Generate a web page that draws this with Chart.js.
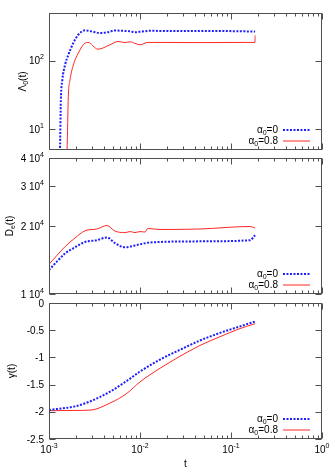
<!DOCTYPE html>
<html lang="en">
<head>
<meta charset="UTF-8">
<title>Lambda0, De, gamma vs t</title>
<script src="https://cdn.jsdelivr.net/npm/chart.js"></script>
<style>
  body { margin: 0; background: #fff; }
  #wrap { position: relative; width: 332px; height: 474px; overflow: hidden; }
  canvas { position: absolute; left: 0; }
</style>
</head>
<body>
<div id="wrap">
  <canvas id="c1" width="332" height="155" style="top:0px"></canvas>
  <canvas id="c2" width="332" height="150" style="top:150px"></canvas>
  <canvas id="c3" width="332" height="180" style="top:294px"></canvas>
</div>
<script>
// ---- data ----
const legendVals = ['0', '0.8'];            // alpha_0 of each series

// panel 1: Lambda_0(t)
const tL0a = [0.00128, 0.00132, 0.00135, 0.0014, 0.0015, 0.00163, 0.00185, 0.0021, 0.00249, 0.003, 0.00363, 0.00445, 0.0053, 0.00634, 0.00777, 0.0088, 0.0105, 0.0129, 0.0214, 0.0456, 0.0975, 0.184];
const L0a  = [3, 5, 27, 52, 87, 122, 182, 241, 279, 268, 255, 262, 278, 275, 270, 262, 268, 275, 272, 273, 272, 268];
const tL0b = [0.00155, 0.00158, 0.00163, 0.0017, 0.00185, 0.0021, 0.00249, 0.00268, 0.00345, 0.00468, 0.00573, 0.00684, 0.00777, 0.0088, 0.01, 0.0122, 0.0456, 0.179, 0.1835, 0.184];
const L0b  = [3, 5, 30, 52, 87, 130, 182, 186, 148, 172, 192, 185, 190, 180, 172, 186, 185, 186, 186, 235];

// panel 2: De(t)
const tDa = [0.001, 0.0015, 0.00193, 0.00249, 0.00336, 0.00434, 0.0053, 0.00684, 0.0088, 0.01, 0.0129, 0.0456, 0.162, 0.184];
const Dea = [12770, 15100, 16100, 17000, 17300, 17800, 16800, 16100, 16400, 16600, 16900, 17100, 17300, 18200];
const tDb = [0.001, 0.0015, 0.00193, 0.00249, 0.00336, 0.00434, 0.0053, 0.00684, 0.0078, 0.0088, 0.01, 0.01135, 0.0122, 0.0166, 0.0456, 0.162, 0.184];
const Deb = [13530, 16200, 17700, 19050, 19400, 20100, 19000, 18700, 18900, 18700, 18900, 18800, 19500, 19300, 19400, 19900, 19600];

// panel 3: gamma(t)
const tG  = [0.001, 0.00193, 0.00282, 0.00468, 0.00719, 0.01, 0.0166, 0.0275, 0.0456, 0.0757, 0.1256, 0.184];
const Ga  = [-1.965, -1.90, -1.81, -1.63, -1.43, -1.26, -1.04, -0.86, -0.69, -0.55, -0.43, -0.34];
const Gb  = [-1.98, -1.975, -1.97, -1.84, -1.66, -1.45, -1.20, -0.98, -0.78, -0.62, -0.47, -0.38];

// ticks
const xTicks = [0.001, 0.01, 0.1, 1];
const xTickExp = ['-3', '-2', '-1', '0'];
const y1Ticks = [10, 100];
const y1TickExp = ['1', '2'];
const y2Ticks = [10000, 20000, 30000, 40000];
const y2TickMant = ['1', '2', '3', '4'];
const y3Ticks = [-2.5, -2, -1.5, -1, -0.5, 0];
const y3TickLab = ['-2.5', '-2', '-1.5', '-1', '-0.5', '0'];

const BLUE = 'rgb(30,30,255)';
const RED = 'rgb(255,40,40)';
const FONT = '"Liberation Sans", Arial, sans-serif';

function pts(xs, ys) { return xs.map((v, i) => ({x: v, y: ys[i]})); }

// rich text: parts = [{t, sub, sup}]
function richWidth(ctx, parts) {
  let w = 0;
  parts.forEach(p => {
    ctx.font = ((p.sub || p.sup) ? '7px ' : '10px ') + FONT;
    w += ctx.measureText(p.t).width;
  });
  return w;
}
function drawRich(ctx, parts, x, y, align) {
  const w = richWidth(ctx, parts);
  let cx = align === 'right' ? x - w : align === 'center' ? x - w / 2 : x;
  ctx.textAlign = 'left';
  ctx.textBaseline = 'alphabetic';
  parts.forEach(p => {
    ctx.font = ((p.sub || p.sup) ? '7px ' : '10px ') + FONT;
    const dy = p.sub ? 2 : p.sup ? -5 : 0;
    ctx.fillText(p.t, cx, y + dy);
    cx += ctx.measureText(p.t).width;
  });
}

const framePlugin = {
  id: 'frame',
  afterDatasetsDraw(chart, args, o) {
    const {ctx, chartArea: a, scales: {x, y}} = chart;
    const L = a.left + 0.5, R = a.right - 0.5, T = a.top + 0.5, B = a.bottom - 0.5;
    ctx.save();
    ctx.strokeStyle = '#505050';
    ctx.lineWidth = 1;
    ctx.beginPath();
    // x ticks (major + minor), bottom and top
    for (let k = -3; k <= 0; k++) {
      for (let m = 1; m <= 9; m++) {
        const v = m * Math.pow(10, k);
        if (v > 1.0001) break;
        const px = Math.round(x.getPixelForValue(v)) + 0.5;
        const len = m === 1 ? 6 : 3;
        ctx.moveTo(px, B); ctx.lineTo(px, B - len);
        ctx.moveTo(px, T); ctx.lineTo(px, T + len);
      }
    }
    // y ticks, left and right
    o.yTicks.forEach(v => {
      const py = Math.round(y.getPixelForValue(v)) + 0.5;
      ctx.moveTo(L, py); ctx.lineTo(L + 6, py);
      ctx.moveTo(R, py); ctx.lineTo(R - 6, py);
    });
    ctx.stroke();
    ctx.strokeRect(L, T, R - L, B - T);

    ctx.fillStyle = '#000';
    // y tick labels
    o.yTicks.forEach((v, i) => {
      const py = y.getPixelForValue(v);
      drawRich(ctx, o.yLabel(i), 44, py + 3.5, 'right');
    });
    // x tick labels
    if (o.xLabels) {
      xTicks.forEach((v, i) => {
        const px = x.getPixelForValue(v);
        drawRich(ctx, [{t: '10'}, {t: xTickExp[i], sup: true}], px, a.bottom + 14, 'center');
      });
      drawRich(ctx, [{t: 't'}], (a.left + a.right) / 2, a.bottom + 28, 'center');
    }
    // y axis title
    ctx.save();
    ctx.translate(o.titleX, (a.top + a.bottom) / 2);
    ctx.rotate(-Math.PI / 2);
    drawRich(ctx, o.title, 0, 3.5, 'center');
    ctx.restore();

    // legend
    chart.data.datasets.forEach((ds, i) => {
      const ly = a.bottom - 20 + i * 11;
      ctx.fillStyle = '#000';
      drawRich(ctx, [{t: 'α'}, {t: '0', sub: true}, {t: '=' + legendVals[i]}], 278, ly + 3, 'right');
      ctx.strokeStyle = ds.borderColor;
      ctx.lineWidth = ds.borderWidth;
      ctx.setLineDash(ds.borderDash || []);
      ctx.beginPath();
      ctx.moveTo(283, ly); ctx.lineTo(310, ly);
      ctx.stroke();
      ctx.setLineDash([]);
    });
    ctx.restore();
  }
};

function makeChart(id, pad, yScale, dsA, dsB, opts) {
  return new Chart(document.getElementById(id), {
    type: 'line',
    data: {
      datasets: [
        {label: 'α0=0', data: dsA, borderColor: BLUE, borderWidth: 2, borderDash: [2, 1.5], pointRadius: 0, cubicInterpolationMode: 'monotone', fill: false},
        {label: 'α0=0.8', data: dsB, borderColor: RED, borderWidth: 1, pointRadius: 0, cubicInterpolationMode: 'monotone', fill: false}
      ]
    },
    options: {
      responsive: false,
      animation: false,
      parsing: false,
      layout: {padding: pad},
      plugins: {legend: {display: false}, tooltip: {enabled: false}, frame: opts},
      scales: {
        x: {type: 'logarithmic', min: 0.001, max: 1, display: false},
        y: Object.assign({display: false}, yScale)
      }
    },
    plugins: [framePlugin]
  });
}

makeChart('c1', {left: 49, right: 10, top: 13, bottom: 5},
  {type: 'logarithmic', min: 5, max: 500},
  pts(tL0a, L0a), pts(tL0b, L0b),
  {yTicks: y1Ticks, yLabel: i => [{t: '10'}, {t: y1TickExp[i], sup: true}],
   title: [{t: 'Λ'}, {t: '0', sub: true}, {t: '(t)'}], titleX: 22});

makeChart('c2', {left: 49, right: 10, top: 8, bottom: 6},
  {type: 'logarithmic', min: 10000, max: 40000},
  pts(tDa, Dea), pts(tDb, Deb),
  {yTicks: y2Ticks, yLabel: i => [{t: y2TickMant[i] + ' 10'}, {t: '4', sup: true}],
   title: [{t: 'D'}, {t: 'e', sub: true}, {t: '(t)'}], titleX: 9});

makeChart('c3', {left: 49, right: 10, top: 9, bottom: 35},
  {type: 'linear', min: -2.5, max: 0},
  pts(tG, Ga), pts(tG, Gb),
  {yTicks: y3Ticks, yLabel: i => [{t: y3TickLab[i]}],
   title: [{t: 'γ(t)'}], titleX: 11, xLabels: true});
</script>
</body>
</html>
